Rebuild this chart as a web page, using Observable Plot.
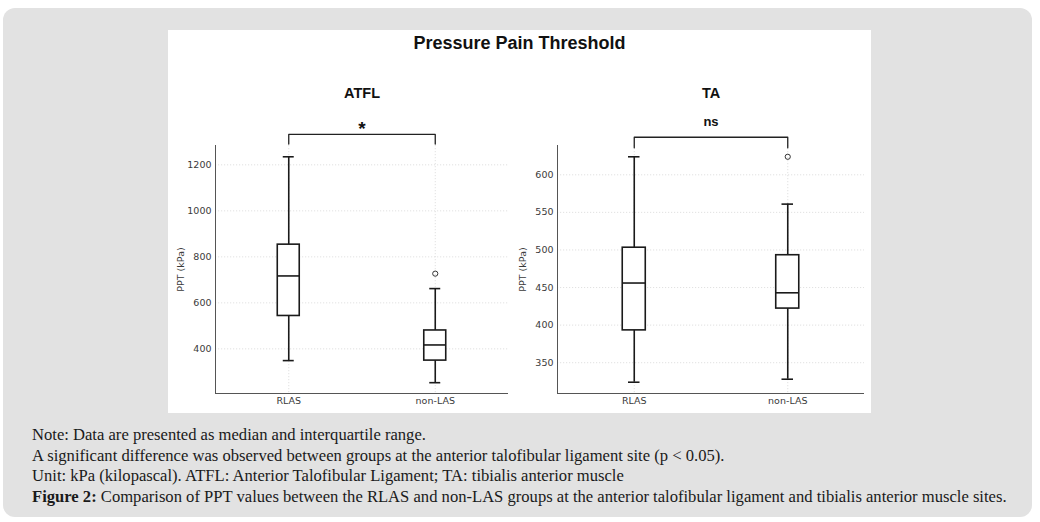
<!DOCTYPE html>
<html>
<head>
<meta charset="utf-8">
<script src="https://cdn.jsdelivr.net/npm/d3@7"></script>
<script src="https://cdn.jsdelivr.net/npm/@observablehq/plot@0.6"></script>
<style>
  html, body { margin: 0; padding: 0; background: #ffffff; }
  #page { position: relative; width: 1040px; height: 522px; overflow: hidden; }
  #card { position: absolute; left: 3px; top: 8px; width: 1029px; height: 509px; background: #e2e2e2; border-radius: 12px; }
  #chart { position: absolute; left: 168px; top: 30px; width: 703px; height: 383px; background: #ffffff; }
  #title { position: absolute; left: 0; top: 3px; width: 703px; text-align: center; font-family: "Liberation Sans", Arial, sans-serif; font-weight: bold; font-size: 18px; color: #111; }
  #left { position: absolute; left: 0; top: 0; }
  #right { position: absolute; left: 344px; top: 0; }
  #notes { position: absolute; left: 32px; top: 425px; font-family: "Liberation Serif", "Times New Roman", serif; font-size: 16.6px; line-height: 20.5px; color: #1a1a1a; white-space: nowrap; }
  #notes b { font-weight: bold; }
</style>
</head>
<body>
<div id="page">
  <div id="card"></div>
  <div id="chart">
    <div id="left"></div>
    <div id="right"></div>
    <div id="title">Pressure Pain Threshold</div>
  </div>
  <div id="notes">
    <div>Note: Data are presented as median and interquartile range.</div>
    <div>A significant difference was observed between groups at the anterior talofibular ligament site (p &lt; 0.05).</div>
    <div>Unit: kPa (kilopascal). ATFL: Anterior Talofibular Ligament; TA: tibialis anterior muscle</div>
    <div><b>Figure 2:</b> Comparison of PPT values between the RLAS and non-LAS groups at the anterior talofibular ligament and tibialis anterior muscle sites.</div>
  </div>
</div>
<script>
// ---- data ----
const categories = ["RLAS", "non-LAS"];
const panelTitles = ["ATFL", "TA"];
const sigLabels = ["*", "ns"];
const yLabel = "PPT (kPa)";

// ATFL panel
const atflLow = [349, 253];
const atflQ1 = [543, 349];
const atflMedian = [717, 417];
const atflQ3 = [853, 480];
const atflHigh = [1235, 662];
const atflOutlierGroups = ["non-LAS"];
const atflOutlierValues = [727];
const atflTicks = [400, 600, 800, 1000, 1200];
const atflDomain = [206, 1284];
const atflBracket = [1290, 1332]; // [leg end, bar]

// TA panel
const taLow = [324, 328];
const taQ1 = [393, 422];
const taMedian = [456, 443];
const taQ3 = [503, 493];
const taHigh = [624, 561];
const taOutlierGroups = ["non-LAS"];
const taOutlierValues = [624];
const taTicks = [350, 400, 450, 500, 550, 600];
const taDomain = [309, 639];
const taBracket = [636, 650];

const xDomain = [0.5, 2.5];

function panel(cfg) {
  const rows = categories.map((c, i) => ({
    pos: i + 1, low: cfg.low[i], q1: cfg.q1[i], med: cfg.med[i], q3: cfg.q3[i], high: cfg.high[i]
  }));
  const outliers = cfg.outGroups.map((g, i) => ({pos: categories.indexOf(g) + 1, value: cfg.outValues[i]}));
  const bw = 0.075, cw = 0.0375;
  const bracket = [
    {x: 1, y: cfg.bracket[0]}, {x: 1, y: cfg.bracket[1]},
    {x: 2, y: cfg.bracket[1]}, {x: 2, y: cfg.bracket[0]}
  ];
  const grid = {stroke: "#d4d4d4", strokeOpacity: 1, strokeWidth: 0.7, strokeDasharray: "1.2,1.8"};
  const ink = "#1a1a1a";
  return Plot.plot({
    width: cfg.width,
    height: 383,
    marginTop: 115,
    marginBottom: 20,
    marginLeft: cfg.ml,
    marginRight: cfg.mr,
    x: {domain: xDomain},
    y: {domain: cfg.domain},
    style: {fontFamily: "DejaVu Sans, sans-serif", background: "transparent", overflow: "visible"},
    marks: [
      Plot.gridY(cfg.ticks, grid),
      Plot.gridX([1, 2], grid),
      Plot.axisY(cfg.ticks, {tickSize: 0, tickPadding: 4, fontSize: 9.5, fill: "#3a3a3a",
        tickFormat: d => String(d),
        label: yLabel, labelAnchor: "center", labelArrow: "none", labelOffset: 38}),
      Plot.axisX([1, 2], {tickFormat: d => categories[d - 1], tickSize: 0, tickPadding: 4,
        fontSize: 9.5, fill: "#3a3a3a", label: null}),
      Plot.ruleX([xDomain[0]], {stroke: "#555", strokeWidth: 1}),
      Plot.ruleY([cfg.domain[0]], {stroke: "#555", strokeWidth: 1}),
      // whiskers
      Plot.ruleX(rows, {x: "pos", y1: "q3", y2: "high", stroke: ink, strokeWidth: 1.6}),
      Plot.ruleX(rows, {x: "pos", y1: "low", y2: "q1", stroke: ink, strokeWidth: 1.6}),
      // caps
      Plot.ruleY(rows, {y: "high", x1: d => d.pos - cw, x2: d => d.pos + cw, stroke: ink, strokeWidth: 1.6}),
      Plot.ruleY(rows, {y: "low", x1: d => d.pos - cw, x2: d => d.pos + cw, stroke: ink, strokeWidth: 1.6}),
      // boxes
      Plot.rect(rows, {x1: d => d.pos - bw, x2: d => d.pos + bw, y1: "q1", y2: "q3",
        fill: "white", stroke: ink, strokeWidth: 1.6}),
      // medians
      Plot.ruleY(rows, {y: "med", x1: d => d.pos - bw, x2: d => d.pos + bw, stroke: ink, strokeWidth: 1.6}),
      // outliers
      Plot.dot(outliers, {x: "pos", y: "value", r: 2.6, stroke: "#333", strokeWidth: 1, fill: "none"}),
      // significance bracket
      Plot.line(bracket, {x: "x", y: "y", stroke: "#222", strokeWidth: 1.3}),
      Plot.text([cfg.sig], {x: () => 1.5, y: () => cfg.bracket[1], text: d => d, dy: cfg.sigDy,
        fontSize: cfg.sigSize, fontWeight: "bold", fill: "#111", fontFamily: "Liberation Sans, Arial, sans-serif"}),
      // panel title
      Plot.text([cfg.title], {x: () => 1.5, frameAnchor: "top", text: d => d, dy: -58,
        fontSize: 14.5, fontWeight: "bold", fill: "#111", fontFamily: "Liberation Sans, Arial, sans-serif"})
    ]
  });
}

document.getElementById("left").append(panel({
  width: 344, ml: 47, mr: 4,
  low: atflLow, q1: atflQ1, med: atflMedian, q3: atflQ3, high: atflHigh,
  outGroups: atflOutlierGroups, outValues: atflOutlierValues,
  ticks: atflTicks, domain: atflDomain, bracket: atflBracket,
  sig: sigLabels[0], sigDy: -6, sigSize: 19, title: panelTitles[0]
}));
document.getElementById("right").append(panel({
  width: 359, ml: 45, mr: 7,
  low: taLow, q1: taQ1, med: taMedian, q3: taQ3, high: taHigh,
  outGroups: taOutlierGroups, outValues: taOutlierValues,
  ticks: taTicks, domain: taDomain, bracket: taBracket,
  sig: sigLabels[1], sigDy: -15, sigSize: 13, title: panelTitles[1]
}));
</script>
</body>
</html>
